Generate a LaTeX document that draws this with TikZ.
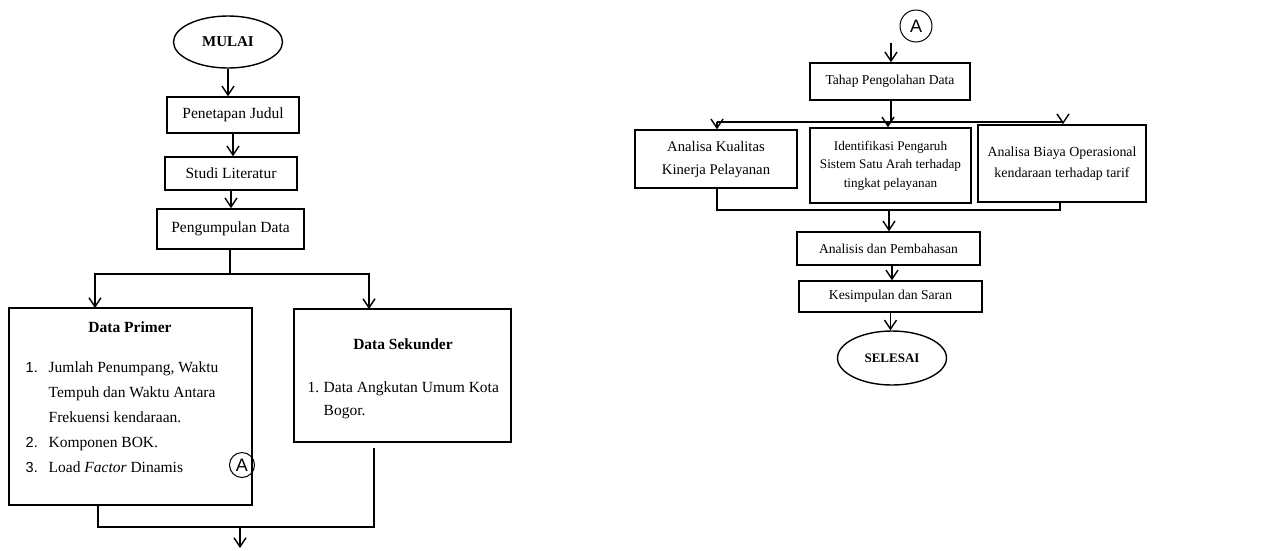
\documentclass[tikz,border=0pt]{standalone}
\usepackage{fontspec}
\setmainfont{Liberation Serif}
\newfontfamily\arialf{Liberation Sans}
\usetikzlibrary{arrows.meta,shapes.geometric}
\begin{document}
\begin{tikzpicture}[x=1pt,y=-1pt,line width=1.4pt,
  arr/.style={-{Straight Barb[length=9pt,width=12pt,line width=1.4pt]}},
  box/.style={draw,rectangle,inner sep=0pt,align=center,font=\fontsize{15.5}{18}\selectfont},
  rbox/.style={draw,rectangle,inner sep=0pt,align=center,font=\fontsize{13.6}{20}\selectfont},
  term/.style={draw,ellipse,inner sep=0pt,font=\bfseries\fontsize{15}{18}\selectfont},
  conn/.style={draw,circle,inner sep=0pt,line width=1pt,font=\arialf\fontsize{18}{18}\selectfont},
  txt/.style={inner sep=0pt,anchor=base west,font=\fontsize{15.5}{18}\selectfont},
  num/.style={inner sep=0pt,anchor=base west,font=\arialf\fontsize{14.5}{18}\selectfont},
  ttl/.style={inner sep=0pt,anchor=base,font=\bfseries\fontsize{15.5}{18}\selectfont}
]
\useasboundingbox (0,0) rectangle (1274,550);

% ---------- left column ----------
\node[term,minimum width=109,minimum height=52] (mulai) at (228,42) {MULAI};
\node[box,minimum width=132,minimum height=36] (judul) at (233,115) {Penetapan Judul};
\node[box,minimum width=132,minimum height=33] (studi) at (231,173.5) {Studi Literatur};
\node[box,minimum width=147,minimum height=40,line width=1.7pt] (kumpul) at (230.5,229) {Pengumpulan Data};

\node[draw,rectangle,minimum width=243,minimum height=197,inner sep=0pt] (primer) at (130.5,406.5) {};
\node[draw,rectangle,minimum width=217,minimum height=133,inner sep=0pt] (sekunder) at (402.5,375.5) {};

\node[ttl] (ptitle) at (130,332) {Data Primer};
\node[num] (pn1) at (25,372) {1.};
\node[txt] (pl1) at (48,372) {Jumlah Penumpang, Waktu};
\node[txt] (pl2) at (48,397) {Tempuh dan Waktu Antara};
\node[txt] (pl3) at (48,422) {Frekuensi kendaraan.};
\node[num] (pn2) at (25,447) {2.};
\node[txt] (pl4) at (48,447) {Komponen BOK.};
\node[num] (pn3) at (25,472) {3.};
\node[txt] (pl5) at (48,472) {Load \textit{Factor} Dinamis};

\node[conn,minimum size=25] (ca) at (242,465) {A};

\node[ttl] (stitle) at (403,349) {Data Sekunder};
\node[txt] (sn1) at (307,392) {1.};
\node[txt] (sl1) at (323,392) {Data Angkutan Umum Kota};
\node[txt] (sl2) at (323,415) {Bogor.};

\coordinate (split) at (230,274);
\coordinate (pin) at (95,308);
\coordinate (sin) at (369,309);
\coordinate (pout) at (98,505);
\coordinate (sout) at (374,448);
\coordinate (jl) at (98,527);
\coordinate (jr) at (374,527);
\coordinate (jm) at (240,527);
\coordinate (jend) at (240,548);

\draw[arr] (mulai) -- (mulai |- judul.north);
\draw[arr] (judul) -- (judul |- studi.north);
\draw[arr] (studi) -- (studi |- kumpul.north);
\draw (kumpul.south -| split) -- (split);
\draw[arr] (split) -| (pin);
\draw[arr] (split) -| (sin);
\draw (pout) -- (jl) -- (jr) -- (sout);
\draw[arr] (jm) -- (jend);

% ---------- right column ----------
\node[conn,minimum size=32] (cb) at (916,26) {A};
\node[rbox,minimum width=160,minimum height=37] (tahap) at (890,81.5) {Tahap Pengolahan Data};
\node[box,minimum width=162,minimum height=58,font=\fontsize{14.7}{23}\selectfont] (b1) at (716,159) {Analisa Kualitas\\Kinerja Pelayanan};
\node[box,minimum width=161,minimum height=75,font=\fontsize{13.2}{18.5}\selectfont] (b2) at (890.5,165.5) {Identifikasi Pengaruh\\Sistem Satu Arah terhadap\\tingkat pelayanan};
\node[box,minimum width=168,minimum height=77,line width=1.7pt,font=\fontsize{13.9}{20.5}\selectfont] (b3) at (1062,163.5) {Analisa Biaya Operasional\\kendaraan terhadap tarif};
\node[rbox,minimum width=183,minimum height=33] (anal) at (888.5,248.5) {Analisis dan Pembahasan};
\node[rbox,minimum width=183,minimum height=31] (kesim) at (890.5,296.5) {Kesimpulan dan Saran};
\node[term,minimum width=109,minimum height=54,font=\bfseries\fontsize{13}{16}\selectfont] (selesai) at (892,358) {SELESAI};

\coordinate (aa) at (891,43);
\coordinate (rs) at (891,122);
\coordinate (rl) at (717,122);
\coordinate (rr) at (1063,122);
\coordinate (rm) at (888,122);
\coordinate (ql) at (717,210);
\coordinate (qr) at (1060,210);
\coordinate (qm) at (889,210);

\draw[arr] (aa) -- (aa |- tahap.north);
\draw (tahap.south -| rs) -- (rs);
\draw (rl) -- (rr);
\draw[arr] (rl) -- (rl |- b1.north);
\draw[arr] (rm) -- (rm |- b2.north);
\draw[arr] (rr) -- (rr |- b3.north);
\draw (b1.south -| ql) -- (ql) -- (qr) -- (b3.south -| qr);
\draw[arr] (qm) -- (qm |- anal.north);
\draw[arr] (anal.south -| 892,0) -- (kesim.north -| 892,0);
\draw[arr] (kesim) -- (kesim |- selesai.north);
\end{tikzpicture}
\end{document}
